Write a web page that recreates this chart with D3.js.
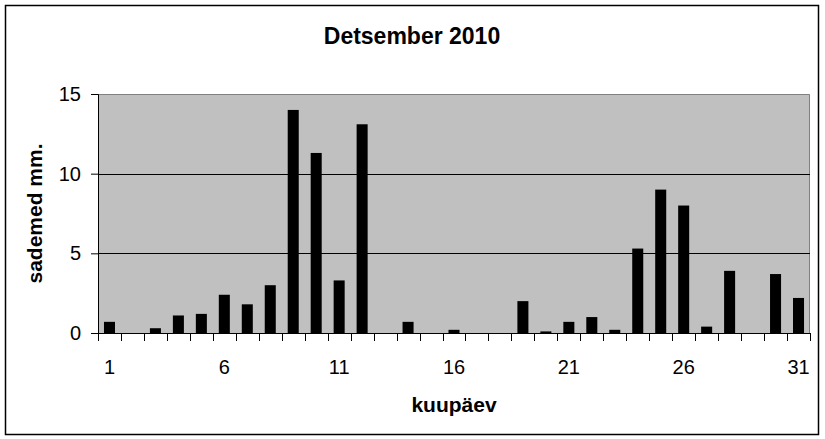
<!DOCTYPE html>
<html>
  <head>
    <meta charset="utf-8">
    <title>Detsember 2010</title>
    <script src="https://d3js.org/d3.v7.min.js"></script>
    <style>
      body { margin: 0; background: #fff; }
      text { font-family: Arial, "Liberation Sans", sans-serif; fill: #000; }
    </style>
  </head>
  <body>
    <script>
      // Data
      var days = d3.range(1, 32);
      var rain = [0.7, 0, 0.3, 1.1, 1.2, 2.4, 1.8, 3.0, 14.0, 11.3, 3.3, 13.1, 0, 0.7, 0, 0.2,
                  0, 0, 2.0, 0.1, 0.7, 1.0, 0.2, 5.3, 9.0, 8.0, 0.4, 3.9, 0, 3.7, 2.2];
      var xTickLabels = [1, 6, 11, 16, 21, 26, 31];
      var yTicks = [0, 5, 10, 15];

      var W = 825, H = 439;
      var margin = {top: 94, right: 15, bottom: 106, left: 98};
      var width = W - margin.left - margin.right;
      var height = H - margin.top - margin.bottom;

      var svg = d3.select("body").append("svg")
                  .attr("width", W)
                  .attr("height", H);

      // outer frame
      svg.append("rect")
         .attr("x", 5.5).attr("y", 5.5)
         .attr("width", 813).attr("height", 429)
         .attr("fill", "#fff")
         .attr("stroke", "#000")
         .attr("stroke-width", 1.5);

      var g = svg.append("g")
                 .attr("transform", "translate(" + margin.left + "," + margin.top + ")");

      var x = d3.scaleBand()
                .domain(days)
                .range([0, width])
                .paddingInner(0.52)
                .paddingOuter(0.26);

      var y = d3.scaleLinear()
                .domain([0, 15])
                .range([height, 0]);

      // plot background
      g.append("rect")
       .attr("width", width)
       .attr("height", height)
       .attr("fill", "#c0c0c0");

      // top and right border, grey
      g.append("path")
       .attr("d", "M0,0.5H" + (width - 0.5) + "V" + height)
       .attr("fill", "none")
       .attr("stroke", "#808080");

      // gridlines
      g.selectAll(".grid")
       .data(yTicks.filter(function(d) { return d > 0 && d < 15; }))
       .enter().append("line")
       .attr("x1", 0).attr("x2", width)
       .attr("y1", function(d) { return Math.round(y(d)) + 0.5; })
       .attr("y2", function(d) { return Math.round(y(d)) + 0.5; })
       .attr("stroke", "#000");

      // bars
      g.selectAll(".bar")
       .data(rain)
       .enter().append("rect")
       .attr("class", "bar")
       .attr("x", function(d, i) { return x(days[i]); })
       .attr("width", x.bandwidth())
       .attr("y", function(d) { return y(d); })
       .attr("height", function(d) { return height - y(d); })
       .attr("fill", "#000");

      // y axis
      var yAxis = g.append("g")
                   .call(d3.axisLeft(y).tickValues(yTicks).tickSize(7).tickPadding(10));
      yAxis.select(".domain").attr("stroke", "#000");
      yAxis.selectAll("text").style("font-size", "20px");

      // x axis: ticks on band boundaries, labels at band centres
      var bounds = days.map(function(d) { return x(d) - (x.step() - x.bandwidth()) / 2; });
      bounds.push(width);
      g.append("line")
       .attr("x1", 0).attr("x2", width)
       .attr("y1", height + 0.5).attr("y2", height + 0.5)
       .attr("stroke", "#000");
      g.selectAll(".xtick")
       .data(bounds)
       .enter().append("line")
       .attr("x1", function(d) { return Math.round(d) + 0.5; })
       .attr("x2", function(d) { return Math.round(d) + 0.5; })
       .attr("y1", height).attr("y2", height + 8)
       .attr("stroke", "#000");
      g.selectAll(".xlabel")
       .data(xTickLabels)
       .enter().append("text")
       .attr("x", function(d) { return x(d) + x.bandwidth() / 2; })
       .attr("y", height + 41)
       .attr("text-anchor", "middle")
       .style("font-size", "20px")
       .text(function(d) { return d; });

      // title
      svg.append("text")
         .attr("x", 412)
         .attr("y", 44)
         .attr("text-anchor", "middle")
         .style("font-size", "23px")
         .style("font-weight", "bold")
         .text("Detsember 2010");

      // axis titles
      svg.append("text")
         .attr("x", margin.left + width / 2)
         .attr("y", 412)
         .attr("text-anchor", "middle")
         .style("font-size", "21px")
         .style("font-weight", "bold")
         .text("kuupäev");

      svg.append("text")
         .attr("transform", "translate(42," + (margin.top + height / 2) + ") rotate(-90)")
         .attr("text-anchor", "middle")
         .style("font-size", "21px")
         .style("font-weight", "bold")
         .text("sademed mm.");
    </script>
  </body>
</html>
